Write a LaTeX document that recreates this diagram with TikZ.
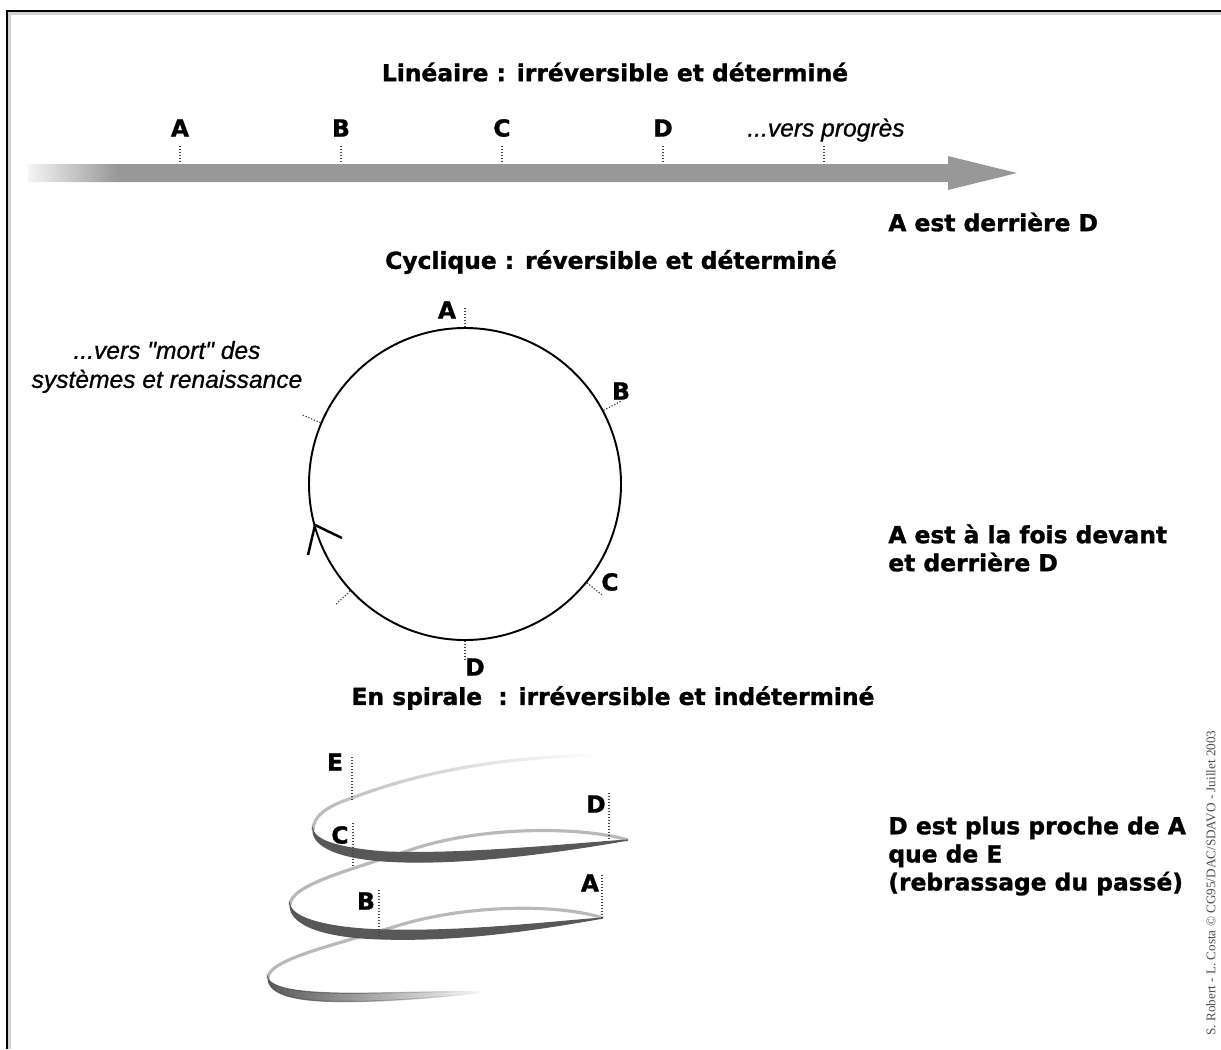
\documentclass[tikz,border=0pt]{standalone}
\usepackage{fontspec}
\setmainfont{DejaVu Sans}[BoldFeatures={FakeBold=1.3}]
\newfontfamily\notefont{Liberation Sans}[ItalicFeatures={FakeBold=0.8}]
\newfontfamily\creditfont{Liberation Serif}
\usetikzlibrary{fadings}
\definecolor{arrowgray}{RGB}{152,152,152}
\definecolor{spiraldark}{RGB}{88,88,88}
\definecolor{spirallight}{RGB}{185,185,185}
\tikzfading[name=tailfade,left color=transparent!0,middle color=transparent!0,right color=transparent!100]
\pgfdeclarehorizontalshading{shaftfade}{100bp}{color(0bp)=(arrowgray!10); color(25bp)=(arrowgray!10);
  color(29.5bp)=(arrowgray); color(100bp)=(arrowgray)}

\begin{document}
\begin{tikzpicture}[x=0.02cm,y=-0.02cm,
  title/.style={font=\bfseries\fontsize{13.3}{16}\selectfont},
  lbl/.style={font=\bfseries\fontsize{13.3}{16}\selectfont,inner sep=0pt},
  remark/.style={font=\bfseries\fontsize{13.3}{16}\selectfont,align=left,anchor=west,inner sep=0pt},
  note/.style={font=\notefont\itshape\fontsize{14}{16.5}\selectfont,align=center,inner sep=0pt},
  credit/.style={font=\creditfont\fontsize{7.5}{9}\selectfont,text=black!70,rotate=90,inner sep=0pt},
  tick/.style={densely dotted,line width=0.7pt,black!75},
  circ/.style={line width=1.1pt},
  back/.style={spirallight,line width=1.8pt},
  front/.style={spiraldark,line width=0.7pt}]
\useasboundingbox (0,0) rectangle (1221,1049);
% frame
\draw[gray!35,line width=1.2pt] (9.5,1049) -- (9.5,13.5) -- (1221,13.5);
\draw[line width=1.3pt] (7,1049) -- (7,11) -- (1221,11);

% Linear time
\node[title] (tLin) at (615,72) {Linéaire : irréversible et déterminé};
\shade[shading=shaftfade] (28,164) -- (948,164) -- (948,156) -- (1017,173) -- (948,190) -- (948,182) -- (28,182) -- cycle;
\foreach \x/\n in {180/A,341/B,502/C,663/D}{
  \draw[tick] (\x,146) -- (\x,163);
  \node[lbl] (lin\n) at (\x,128) {\n};
}
\draw[tick] (824,146) -- (824,163);
\node[note] (linGoal) at (826,130) {...vers progrès};
\node[remark] (linRem) at (888,222) {A est derrière D};

% Cyclic time
\node[title] (tCyc) at (611,262) {Cyclique : réversible et déterminé};
\coordinate (ctr) at (465,484);
\begin{scope}[shift={(ctr)},y=0.02cm]
  \draw[circ] (0,0) circle[radius=156];
  \foreach \a in {90,28,157,-39,-137,-90}
    \draw[tick] (\a:157) -- (\a:177);
  % direction mark
  \draw[circ,line width=1.4pt] (-123,-54) -- (-150,-41) -- (-157,-71);
\end{scope}
\node[lbl] (cycA) at (447,310) {A};
\node[lbl] (cycB) at (621,391) {B};
\node[lbl] (cycC) at (610,582) {C};
\node[lbl] (cycD) at (475,667) {D};
\node[note] (cycGoal) at (167,367) {...vers "mort" des\\systèmes et renaissance};
\node[remark] (cycRem) at (888,548) {A est à la fois devant\\et derrière D};

% Spiral time
\node[title] (tSpi) at (613,698) {En spirale\ \ : irréversible et indéterminé};
% back strands
\draw[back,path fading=tailfade] (313,830) .. controls (313,815) and (330,805) .. (352,798)
  .. controls (420,772) and (500,757) .. (600,755);
\draw[back] (628,840) .. controls (580,826) and (480,826) .. (410,850)
  .. controls (350,870) and (290,885) .. (290,905);
\draw[back] (603,918) .. controls (560,904) and (470,904) .. (400,925)
  .. controls (330,946) and (268,960) .. (268,978);
% front strands
\filldraw[front,fill=spiraldark] (313,830) .. controls (313,847) and (340,858) .. (385,861)
  .. controls (460,866) and (560,852) .. (628,840)
  .. controls (560,845) and (460,855) .. (385,852)
  .. controls (345,849) and (316,842) .. (313,830) -- cycle;
\filldraw[front,fill=spiraldark] (290,905) .. controls (290,927) and (330,938) .. (385,939)
  .. controls (465,941) and (540,929) .. (603,918)
  .. controls (540,923) and (465,932) .. (385,930)
  .. controls (335,929) and (293,920) .. (290,905) -- cycle;
\filldraw[front,fill=spiraldark,path fading=tailfade] (268,978) .. controls (268,1001) and (320,1003) .. (375,1001)
  .. controls (425,999) and (460,995) .. (485,992)
  .. controls (460,991) and (425,992) .. (375,993)
  .. controls (322,994) and (272,992) .. (268,978) -- cycle;
% markers
\draw[tick] (352,757) -- (352,800);
\draw[tick] (609,793) -- (609,840);
\draw[tick] (353,823) -- (353,866);
\draw[tick] (602,875) -- (602,918);
\draw[tick] (379,890) -- (379,936);
\node[lbl] (spiE) at (335,762) {E};
\node[lbl] (spiD) at (596,804) {D};
\node[lbl] (spiC) at (340,835) {C};
\node[lbl] (spiA) at (590,883) {A};
\node[lbl] (spiB) at (366,901) {B};
\node[remark] (spiRem) at (888,856) {D est plus proche de A\\que de E\\(rebrassage du passé)};

\node[credit] (credit) at (1211,883) {S. Robert - L. Costa © CG95/DAC/SDAVO - Juillet 2003};
\end{tikzpicture}
\end{document}
